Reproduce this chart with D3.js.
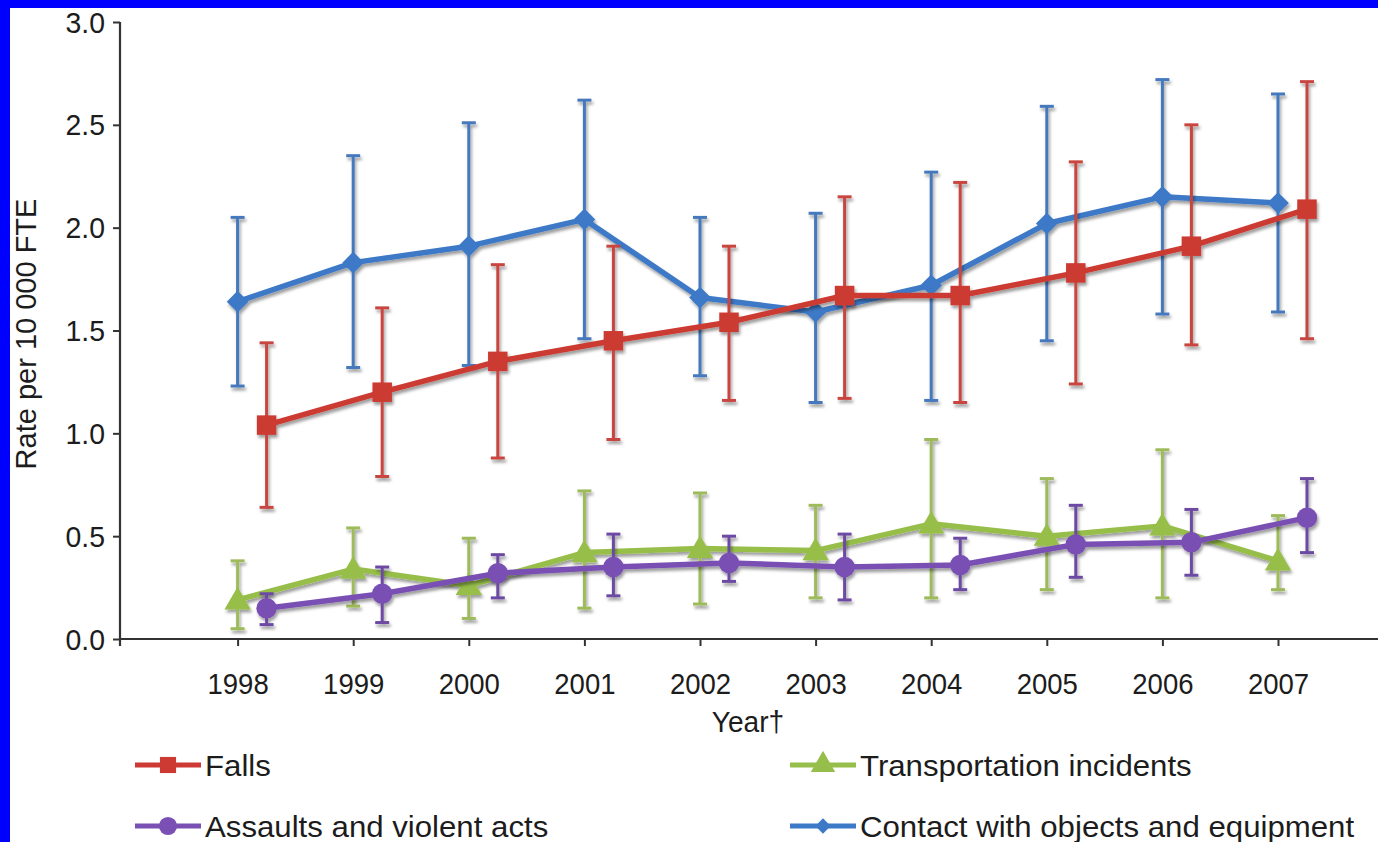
<!DOCTYPE html>
<html>
<head>
<meta charset="utf-8">
<script src="https://cdn.jsdelivr.net/npm/d3@7"></script>
<style>
  html, body { margin: 0; padding: 0; background: #0000ff; }
  svg { display: block; }
  text { font-family: "Liberation Sans", Arial, sans-serif; fill: #1c1c1c; }
</style>
</head>
<body>
<svg id="chart" width="1378" height="842"></svg>
<script>
// Injury rates per 10 000 FTE with confidence intervals, 1998–2007
const years = ["1998","1999","2000","2001","2002","2003","2004","2005","2006","2007"];
const yTicks = [0, 0.5, 1.0, 1.5, 2.0, 2.5, 3.0];

const fallsRate  = [1.04, 1.20, 1.35, 1.45, 1.54, 1.67, 1.67, 1.78, 1.91, 2.09];
const fallsLow   = [0.64, 0.79, 0.88, 0.97, 1.16, 1.17, 1.15, 1.24, 1.43, 1.46];
const fallsHigh  = [1.44, 1.61, 1.82, 1.91, 1.91, 2.15, 2.22, 2.32, 2.50, 2.71];

const transRate  = [0.19, 0.34, 0.26, 0.42, 0.44, 0.43, 0.56, 0.50, 0.55, 0.38];
const transLow   = [0.05, 0.16, 0.10, 0.15, 0.17, 0.20, 0.20, 0.24, 0.20, 0.24];
const transHigh  = [0.38, 0.54, 0.49, 0.72, 0.71, 0.65, 0.97, 0.78, 0.92, 0.60];

const assaultRate = [0.15, 0.22, 0.32, 0.35, 0.37, 0.35, 0.36, 0.46, 0.47, 0.59];
const assaultLow  = [0.07, 0.08, 0.20, 0.21, 0.28, 0.19, 0.24, 0.30, 0.31, 0.42];
const assaultHigh = [0.22, 0.35, 0.41, 0.51, 0.50, 0.51, 0.49, 0.65, 0.63, 0.78];

const contactRate = [1.64, 1.83, 1.91, 2.04, 1.66, 1.59, 1.72, 2.02, 2.15, 2.12];
const contactLow  = [1.23, 1.32, 1.33, 1.46, 1.28, 1.15, 1.16, 1.45, 1.58, 1.59];
const contactHigh = [2.05, 2.35, 2.51, 2.62, 2.05, 2.07, 2.27, 2.59, 2.72, 2.65];

const series = [
  { name: "Contact with objects and equipment", rate: contactRate, low: contactLow, high: contactHigh,
    color: "#3c79c6", bar: "#4478bd", shape: "diamond", shift: 0 },
  { name: "Falls", rate: fallsRate, low: fallsLow, high: fallsHigh,
    color: "#cc3a33", bar: "#c8453f", shape: "square", shift: 1 },
  { name: "Transportation incidents", rate: transRate, low: transLow, high: transHigh,
    color: "#96be4a", bar: "#9dbb5a", shape: "triangle", shift: 0 },
  { name: "Assaults and violent acts", rate: assaultRate, low: assaultLow, high: assaultHigh,
    color: "#7a50b4", bar: "#6c4aa3", shape: "circle", shift: 1 }
];

const legendOrder = ["Falls", "Transportation incidents", "Assaults and violent acts", "Contact with objects and equipment"];

const svg = d3.select("#chart");
const W = 1378, H = 842;

// white page inside the blue frame
svg.append("rect").attr("x", 10).attr("y", 8).attr("width", W - 10).attr("height", H - 8).attr("fill", "#fff");

const defs = svg.append("defs");
const f = defs.append("filter").attr("id", "shadow").attr("x", "-20%").attr("y", "-20%").attr("width", "140%").attr("height", "160%");
f.append("feDropShadow").attr("dx", 1.5).attr("dy", 3).attr("stdDeviation", 1.8)
  .attr("flood-color", "#000").attr("flood-opacity", 0.38);

const x0 = 120, yBase = 639, yTop = 22;
const x = d3.scalePoint().domain(years).range([237.6, 1278]);
const shiftPx = 29;
const y = d3.scaleLinear().domain([0, 3]).range([yBase, yTop]);

function label(g, tx, ty, str, size, anchor, sx) {
  return g.append("text")
    .attr("transform", `translate(${tx},${ty}) scale(${sx || 1},1)`)
    .attr("text-anchor", anchor || "middle")
    .attr("dominant-baseline", "central")
    .style("font-size", size + "px")
    .text(str);
}

// y axis
const yAxis = d3.axisLeft(y).tickValues(yTicks).tickSize(7);
const gy = svg.append("g").attr("transform", `translate(${x0},0)`).call(yAxis);
gy.select(".domain").attr("d", `M0,${yTop}V${yBase + 7}`).attr("stroke", "#333").attr("stroke-width", 2.2);
gy.selectAll(".tick line").attr("stroke", "#333").attr("stroke-width", 2);
gy.selectAll(".tick text").remove();
gy.selectAll(".tick").each(function(d) {
  label(d3.select(this), -15, 0, d3.format(".1f")(d), 29, "end", 0.98);
});

// x axis
const xAxis = d3.axisBottom(x).tickSize(7);
const gx = svg.append("g").attr("transform", `translate(0,${yBase})`).call(xAxis);
gx.select(".domain").attr("d", `M${x0},0H${W}`).attr("stroke", "#333").attr("stroke-width", 2.2);
gx.selectAll(".tick line").attr("stroke", "#333").attr("stroke-width", 2);
gx.selectAll(".tick text").remove();
gx.selectAll(".tick").each(function(d) {
  label(d3.select(this), 0, 45, d, 29, "middle", 0.95);
});

// axis titles
label(svg, 748, 722, "Year†", 29, "middle", 0.97);
svg.append("text")
  .attr("transform", `translate(26,334) rotate(-90)`)
  .attr("text-anchor", "middle").attr("dominant-baseline", "central")
  .style("font-size", "29px")
  .text("Rate per 10 000 FTE");

// marker shapes
const symbolFor = {
  square: d3.symbol().type(d3.symbolSquare).size(380),
  diamond: d3.symbol().type(d3.symbolDiamond2).size(300),
  triangle: d3.symbol().type(d3.symbolTriangle).size(300),
  circle: d3.symbol().type(d3.symbolCircle).size(330)
};

const px = (s, i) => x(years[i]) + (s.shift ? shiftPx : 0);
const line = d3.line();

series.forEach(s => {
  const g = svg.append("g").attr("filter", "url(#shadow)");
  // connecting line
  g.append("path")
    .attr("d", line(s.rate.map((v, i) => [px(s, i), y(v)])))
    .attr("fill", "none").attr("stroke", s.color).attr("stroke-width", 5.5).attr("stroke-linejoin", "round");
  // error bars
  const eb = g.append("g").attr("stroke", s.bar).attr("stroke-width", 3);
  s.rate.forEach((v, i) => {
    const cx = px(s, i);
    eb.append("line").attr("x1", cx).attr("x2", cx).attr("y1", y(s.low[i])).attr("y2", y(s.high[i]));
    eb.append("line").attr("x1", cx - 7).attr("x2", cx + 7).attr("y1", y(s.low[i])).attr("y2", y(s.low[i]));
    eb.append("line").attr("x1", cx - 7).attr("x2", cx + 7).attr("y1", y(s.high[i])).attr("y2", y(s.high[i]));
  });
  // markers
  g.selectAll("path.mark").data(s.rate).join("path")
    .attr("class", "mark")
    .attr("d", symbolFor[s.shape]())
    .attr("transform", (v, i) => `translate(${px(s, i)},${y(v) + (s.shape === "triangle" ? 2 : 0)})`)
    .attr("fill", s.color);
});

// legend: two columns, two rows
const legendPos = [[135, 765], [790, 765], [135, 826], [790, 826]];
legendOrder.forEach((name, k) => {
  const s = series.find(d => d.name === name);
  const [lx, ly] = legendPos[k];
  const g = svg.append("g");
  g.append("line").attr("x1", lx).attr("x2", lx + 66).attr("y1", ly).attr("y2", ly)
    .attr("stroke", s.color).attr("stroke-width", 5);
  const sym = d3.symbol().type({ square: d3.symbolSquare, diamond: d3.symbolDiamond2, triangle: d3.symbolTriangle, circle: d3.symbolCircle }[s.shape])
    .size(s.shape === "diamond" ? 150 : 260);
  g.append("path").attr("d", sym()).attr("transform", `translate(${lx + 33},${ly})`).attr("fill", s.color);
  label(g, lx + 70, ly, name, 30, "start", 1.04);
});
</script>
</body>
</html>
